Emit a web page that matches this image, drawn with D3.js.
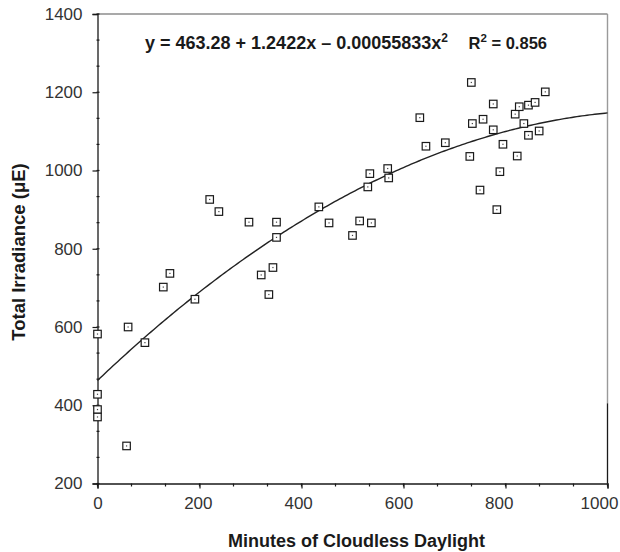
<!DOCTYPE html>
<html>
<head>
<meta charset="utf-8">
<script src="https://cdn.jsdelivr.net/npm/d3@7"></script>
<style>
  html, body { margin: 0; padding: 0; background: #fff; }
  svg { display: block; }
  text { font-family: "Liberation Sans", Arial, Helvetica, sans-serif; }
</style>
</head>
<body>
<svg id="chart" width="620" height="552"></svg>
<script>
// Observations: minutes of cloudless daylight vs total irradiance (µE)
const minutes = [
  0, 0, 0, 0, 57, 60, 93, 129, 142, 191,
  220, 238, 297, 351, 351, 344, 321, 336, 434, 454, 500, 514, 537, 530, 534, 569, 571,
  632, 644, 682, 730, 733, 735, 750, 756, 776, 776, 783, 789, 795, 819, 823, 827, 836, 845, 845, 858, 866, 878
];
const irradiance = [
  582, 428, 389, 370, 296, 600, 560, 702, 737, 671,
  926, 895, 868, 868, 829, 752, 733, 683, 907, 866, 834, 871, 866, 958, 992, 1005, 981,
  1135, 1062, 1071, 1036, 1225, 1120, 950, 1131, 1170, 1104, 900, 997, 1067, 1144, 1037, 1163, 1120, 1167, 1090, 1174, 1101, 1201
];

// Quadratic fit coefficients
const fitCoef = [463.28, 1.2422, -0.00055833];

const xTicks = [0, 200, 400, 600, 800, 1000];
const yTicks = [200, 400, 600, 800, 1000, 1200, 1400];

const svg = d3.select("#chart");

const x = d3.scaleLinear().domain([0, 1000]).range([97.5, 607.5]);
const y = d3.scaleLinear().domain([200, 1400]).range([483.5, 14]);

const axisColor = "#1a1a1a";
const labelColor = "#333";

// Minor ticks every third of a major interval
const xMinor = d3.range(0, 1000.01, 200 / 3);
const yMinor = d3.range(200, 1400.01, 200 / 3);

// Frame: top and right edges lighter
svg.append("line")
  .attr("x1", x(0)).attr("x2", x(1000))
  .attr("y1", y(1400)).attr("y2", y(1400))
  .attr("stroke", "#8c8c8c").attr("stroke-width", 1.4);
svg.append("line")
  .attr("x1", x(1000)).attr("x2", x(1000))
  .attr("y1", y(1400)).attr("y2", y(405))
  .attr("stroke", "#9a9a9a").attr("stroke-width", 1.4);
svg.append("line")
  .attr("x1", x(1000)).attr("x2", x(1000))
  .attr("y1", y(405)).attr("y2", y(200))
  .attr("stroke", axisColor).attr("stroke-width", 1.3);

// X axis
const xAxis = svg.append("g")
  .attr("transform", `translate(0,${y(200)})`)
  .call(d3.axisBottom(x).tickValues(xTicks).tickSize(5).tickPadding(8).tickFormat(d3.format("d")));
xAxis.select(".domain").attr("stroke", axisColor).attr("stroke-width", 1.3);
xAxis.selectAll(".tick line").attr("stroke", axisColor).attr("stroke-width", 1.2);
xAxis.selectAll(".tick text")
  .attr("font-size", 17).attr("fill", labelColor)
  .attr("font-family", "'Liberation Sans', Arial, sans-serif")
  .attr("dx", d => -0.0085 * d);
svg.append("g")
  .attr("transform", `translate(0,${y(200)})`)
  .selectAll("line").data(xMinor).join("line")
  .attr("x1", d => x(d)).attr("x2", d => x(d))
  .attr("y1", 0).attr("y2", 3)
  .attr("stroke", axisColor).attr("stroke-width", 1.2);

// Y axis
const yAxis = svg.append("g")
  .attr("transform", `translate(${x(0)},0)`)
  .call(d3.axisLeft(y).tickValues(yTicks).tickSize(5).tickPadding(10).tickFormat(d3.format("d")));
yAxis.select(".domain").attr("stroke", axisColor).attr("stroke-width", 1.3);
yAxis.selectAll(".tick line").attr("stroke", axisColor).attr("stroke-width", 1.2);
yAxis.selectAll(".tick text")
  .attr("font-size", 17).attr("fill", labelColor)
  .attr("font-family", "'Liberation Sans', Arial, sans-serif");
svg.append("g")
  .attr("transform", `translate(${x(0)},0)`)
  .selectAll("line").data(yMinor).join("line")
  .attr("x1", -1).attr("x2", 2)
  .attr("y1", d => y(d)).attr("y2", d => y(d))
  .attr("stroke", axisColor).attr("stroke-width", 1.2);

// Fitted curve
const fit = v => fitCoef[0] + fitCoef[1] * v + fitCoef[2] * v * v;
const curvePts = d3.range(0, 1000.01, 5).map(v => [v, fit(v)]);
svg.append("path")
  .datum(curvePts)
  .attr("fill", "none")
  .attr("stroke", "#222")
  .attr("stroke-width", 1.4)
  .attr("d", d3.line().x(d => x(d[0])).y(d => y(d[1])));

// Square markers with a centre dot
const pts = minutes.map((m, i) => ({ m, v: irradiance[i] }));
const s = 7.5;
const mk = svg.append("g").selectAll("g").data(pts).join("g")
  .attr("transform", d => `translate(${x(d.m)},${y(d.v)})`);
mk.append("rect")
  .attr("x", -s / 2).attr("y", -s / 2).attr("width", s).attr("height", s)
  .attr("fill", "#fff").attr("stroke", "#1a1a1a").attr("stroke-width", 1.2);
mk.append("rect")
  .attr("x", -0.6).attr("y", -0.6).attr("width", 1.2).attr("height", 1.2)
  .attr("fill", "#444");

// Equation annotation
const eq = svg.append("text")
  .attr("x", 145).attr("y", 49)
  .attr("font-size", 18).attr("font-weight", "bold").attr("fill", "#1a1a1a");
eq.append("tspan").text("y = 463.28 + 1.2422x \u2013 0.00055833x");
eq.append("tspan").attr("font-size", 12).attr("dy", -7).text("2");

const r2 = svg.append("text")
  .attr("x", 547).attr("y", 49)
  .attr("text-anchor", "end")
  .attr("font-size", 16.5).attr("font-weight", "bold").attr("fill", "#1a1a1a");
r2.append("tspan").text("R");
r2.append("tspan").attr("font-size", 11.5).attr("dy", -7).text("2");
r2.append("tspan").attr("dy", 7).text(" = 0.856");

// Axis titles
svg.append("text")
  .attr("x", 356.5).attr("y", 547)
  .attr("text-anchor", "middle")
  .attr("font-size", 18).attr("font-weight", "bold").attr("fill", "#1a1a1a")
  .text("Minutes of Cloudless Daylight");

svg.append("text")
  .attr("transform", "translate(25,252) rotate(-90)")
  .attr("text-anchor", "middle")
  .attr("font-size", 18.5).attr("font-weight", "bold").attr("fill", "#1a1a1a")
  .text("Total Irradiance (\u03BCE)");
</script>
</body>
</html>
